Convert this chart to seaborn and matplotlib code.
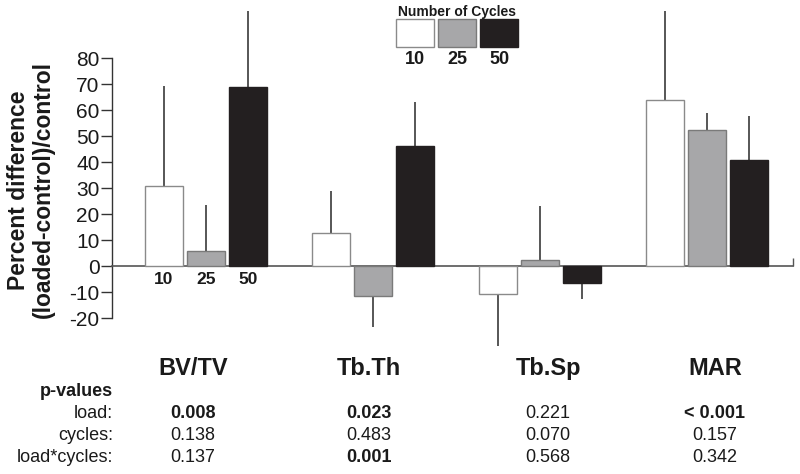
import numpy as np
import pandas as pd
import matplotlib
matplotlib.use("Agg")
import matplotlib.pyplot as plt
import matplotlib.patches as mpatches
import seaborn as sns

# data
measures = ["BV/TV", "Tb.Th", "Tb.Sp", "MAR"]
cycles = ["10", "25", "50"]
vals_10 = [30.8, 12.7, -10.8, 63.8]
vals_25 = [5.8, -11.5, 2.3, 52.3]
vals_50 = [68.8, 46.2, -6.5, 40.8]
err_10 = [38.4, 16.3, 20.0, 34.2]
err_25 = [17.7, 12.0, 20.7, 6.7]
err_50 = [29.2, 16.8, 6.3, 16.9]

p_rows = ["load:", "cycles:", "load*cycles:"]
p_load = ["0.008", "0.023", "0.221", "< 0.001"]
p_cycles = ["0.138", "0.483", "0.070", "0.157"]
p_inter = ["0.137", "0.001", "0.568", "0.342"]
p_bold_load = [True, True, False, True]
p_bold_inter = [False, True, False, False]

colors = ["#ffffff", "#a7a7a9", "#231f20"]
edges = ["#8a8a8a", "#7a7a7a", "#231f20"]

df = pd.DataFrame({
    "measure": measures * 3,
    "cycles": [c for c in cycles for _ in measures],
    "value": vals_10 + vals_25 + vals_50,
})
errs = [err_10, err_25, err_50]
vals = [vals_10, vals_25, vals_50]

sns.set_style("white")
plt.rcParams["font.family"] = ["Liberation Sans", "DejaVu Sans"]
txt = "#1a1a1a"

W, H = 800, 474
fig = plt.figure(figsize=(8, 4.74), dpi=100)
# axes placed in pixel terms: y=0 at 266px, 80 at 58px
top_px, bot_px = 5, 350
ax = fig.add_axes([112 / W, 1 - bot_px / H, (793 - 112) / W, (bot_px - top_px) / H])

sns.barplot(data=df, x="measure", y="value", hue="cycles", palette=colors,
            width=0.754, gap=0.09, errorbar=None, legend=False, ax=ax,
            linewidth=1.0, saturation=1)

for i, cont in enumerate(ax.containers):
    for j, bar in enumerate(cont):
        bar.set_edgecolor(edges[i])
        bar.set_zorder(3)
        v = vals[i][j]
        sign = 1 if v >= 0 else -1
        xc = bar.get_x() + bar.get_width() / 2
        ax.vlines(xc, v, v + sign * errs[i][j], color="#3a3a3a", lw=1.2, zorder=2)

ypx = 2.6
ax.set_ylim((266 - bot_px) / ypx, (266 - top_px) / ypx)
ax.set_xlim(-0.563, 3.515)

sns.despine(ax=ax, top=True, right=True)
ax.spines["left"].set_bounds(-20, 80)
ax.spines["left"].set_color("#333333")
ax.spines["left"].set_linewidth(1.0)
ax.spines["bottom"].set_position(("data", 0))
ax.spines["bottom"].set_color("#555555")
ax.spines["bottom"].set_linewidth(1.2)

ax.set_yticks(np.arange(-20, 81, 10))
ax.set_yticklabels([str(t) for t in range(-20, 81, 10)], fontsize=15, color=txt)
ax.tick_params(axis="y", direction="out", length=8, width=1, color="#333333", pad=1, left=True)
ax.set_xticks([3.515])
ax.set_xticklabels([""])
ax.tick_params(axis="x", direction="in", length=6, width=1, color="#555555", bottom=True)
ax.set_xlabel("")
ax.set_ylabel("")
ax.patch.set_alpha(0)

# bar labels under the first group
for i, cont in enumerate(ax.containers):
    bar = cont[0]
    ax.text(bar.get_x() + bar.get_width() / 2, -5, cycles[i], ha="center", va="center",
            fontsize=12.5, fontweight="bold", color=txt)

fig.text(31 / W, 1 - 190 / H, "Percent difference\n(loaded-control)/control",
         rotation=90, ha="center", va="center", fontsize=16.5, fontweight="bold",
         linespacing=1.1, color=txt)

# legend
fig.text(457 / W, 1 - 12 / H, "Number of Cycles", ha="center", va="center",
         fontsize=10, fontweight="bold", color=txt)
box_x = [396, 438, 480]
for i, c in enumerate(cycles):
    fig.patches.append(mpatches.Rectangle((box_x[i] / W, 1 - 47 / H), 38 / W, 28 / H,
                                          transform=fig.transFigure, facecolor=colors[i],
                                          edgecolor=edges[i], lw=1.0))
    fig.text((box_x[i] + 19) / W, 1 - 60 / H, c, ha="center", va="center",
             fontsize=13, fontweight="bold", color=txt)

# category names and p-value table
col_x = [193, 369, 548, 715]
for k, m in enumerate(measures):
    fig.text(col_x[k] / W, 1 - 375 / H, m, ha="center", va="baseline",
             fontsize=17, fontweight="bold", color=txt)

fig.text(113 / W, 1 - 392 / H, "p-values", ha="right", va="center",
         fontsize=13, fontweight="bold", color=txt)
row_y = [414, 436, 457]
for r, lab in enumerate(p_rows):
    fig.text(113 / W, 1 - row_y[r] / H, lab, ha="right", va="center",
             fontsize=13, color=txt)
for k in range(len(measures)):
    fig.text(col_x[k] / W, 1 - row_y[0] / H, p_load[k], ha="center", va="center", fontsize=13,
             fontweight="bold" if p_bold_load[k] else "normal", color=txt)
    fig.text(col_x[k] / W, 1 - row_y[1] / H, p_cycles[k], ha="center", va="center", fontsize=13,
             color=txt)
    fig.text(col_x[k] / W, 1 - row_y[2] / H, p_inter[k], ha="center", va="center", fontsize=13,
             fontweight="bold" if p_bold_inter[k] else "normal", color=txt)

fig.savefig("out.png", dpi=100)
